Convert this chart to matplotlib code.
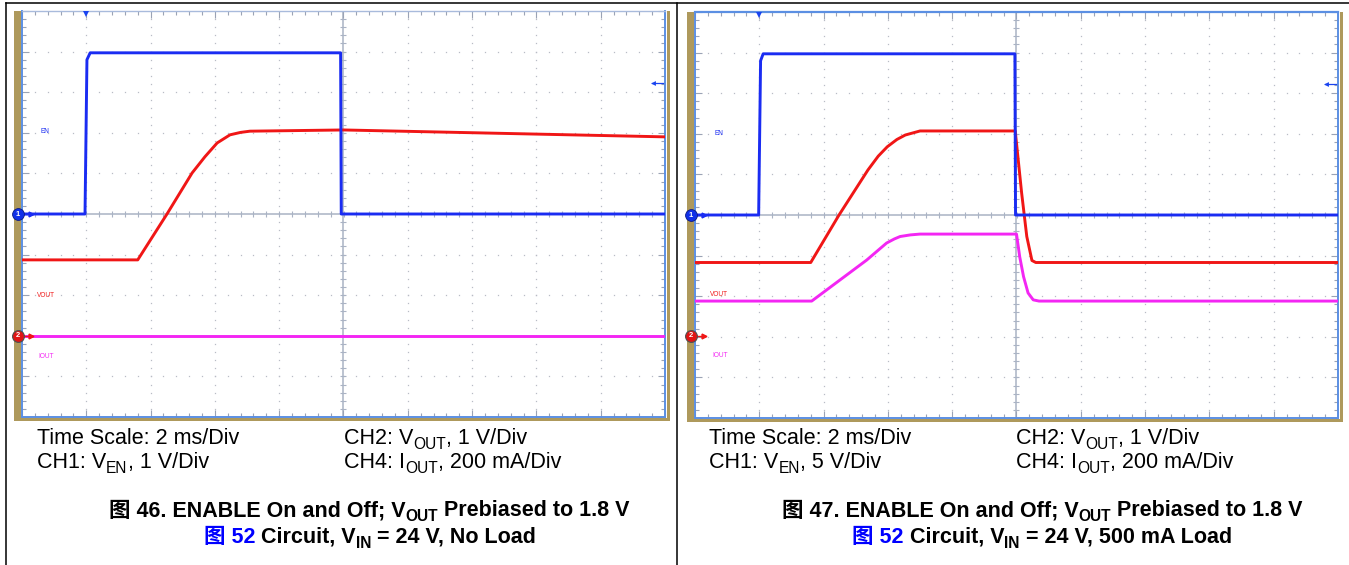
import numpy as np
import matplotlib
matplotlib.use("Agg")
import matplotlib.pyplot as plt
from matplotlib.patches import Rectangle
from matplotlib.lines import Line2D

plt.rcParams['font.family'] = ['Liberation Sans', 'Noto Sans CJK SC', 'DejaVu Sans']

W, H = 1349, 565

# ---------------- data (time in ms, 2 ms/div; level in screen divisions) -------------
en46_t = [-10.0, -8.04, -7.98, -7.88, -0.09, -0.07, 10.0]
en46_v = [0.0, 0.0, 3.80, 3.97, 3.97, 0.0, 0.0]
vout46_t = [-10.0, -6.40, -5.49, -4.71, -4.31, -3.93, -3.53, -3.20, -2.91, 0.0, 10.0]
vout46_v = [-1.13, -1.13, 0.0, 1.01, 1.41, 1.75, 1.95, 2.01, 2.04, 2.07, 1.90]
iout46_t = [-10.0, 10.0]
iout46_v = [-3.0, -3.0]

en47_t = [-10.0, -8.02, -7.96, -7.88, -0.05, -0.03, 10.0]
en47_v = [0.0, 0.0, 3.80, 3.97, 3.97, 0.0, 0.0]
vout47_t = [-10.0, -6.40, -5.52, -4.62, -4.30, -4.02, -3.72, -3.46, -3.00, -0.04, 0.00, 0.16, 0.32, 0.48, 0.60, 10.0]
vout47_v = [-1.17, -1.17, 0.0, 1.11, 1.45, 1.68, 1.86, 1.97, 2.07, 2.07, 1.77, 0.54, -0.53, -1.12, -1.17, -1.17]
iout47_t = [-10.0, -6.37, -5.49, -4.66, -4.04, -3.80, -3.62, -3.30, -3.00, 0.00, 0.10, 0.22, 0.36, 0.52, 0.70, 10.0]
iout47_v = [-2.12, -2.12, -1.60, -1.11, -0.69, -0.59, -0.53, -0.49, -0.47, -0.47, -1.03, -1.52, -1.92, -2.09, -2.12, -2.12]

ch_names = ['EN', 'VOUT', 'IOUT']
ch1_marker_46, ch2_marker_46 = 0.0, -3.0
ch1_marker_47, ch2_marker_47 = 0.0, -2.97
trig_t_46, trig_t_47 = -8.0, -8.02
ref_level_46, ref_level_47 = 3.23, 3.23

info46 = [[("Time Scale: 2 ms/Div", False)],
          [("CH1: V", False), ("EN", True), (", 1 V/Div", False)]]
info46b = [[("CH2: V", False), ("OUT", True), (", 1 V/Div", False)],
           [("CH4: I", False), ("OUT", True), (", 200 mA/Div", False)]]
info47 = [[("Time Scale: 2 ms/Div", False)],
          [("CH1: V", False), ("EN", True), (", 5 V/Div", False)]]
info47b = info46b
cap46 = [[("图 46. ENABLE On and Off; V", False, 'k'), ("OUT", True, 'k'), (" Prebiased to 1.8 V", False, 'k')],
         [("图 52", False, '#0000ff'), (" Circuit, V", False, 'k'), ("IN", True, 'k'), (" = 24 V, No Load", False, 'k')]]
cap47 = [[("图 47. ENABLE On and Off; V", False, 'k'), ("OUT", True, 'k'), (" Prebiased to 1.8 V", False, 'k')],
         [("图 52", False, '#0000ff'), (" Circuit, V", False, 'k'), ("IN", True, 'k'), (" = 24 V, 500 mA Load", False, 'k')]]

BLUE = '#1a2cf2'
RED = '#f01616'
MAG = '#f326f3'
GOLD = '#ae995c'
EDGE = '#5b8fe3'
GRIDC = '#b8bcc6'

fig = plt.figure(figsize=(W / 100, H / 100), dpi=100)


def fx(px):
    return px / W


def fy(py):
    return 1 - py / H


def rect(x0, y0, x1, y1, color, z=-1):
    fig.add_artist(Rectangle((fx(x0), fy(y1)), fx(x1) - fx(x0), fy(y0) - fy(y1),
                             transform=fig.transFigure, color=color, lw=0, zorder=z))


def hline_px(x0, x1, y, color='k', lw=1.1, z=-1):
    fig.add_artist(Line2D([fx(x0), fx(x1)], [fy(y), fy(y)], transform=fig.transFigure,
                          color=color, lw=lw, zorder=z))


def vline_px(x, y0, y1, color='k', lw=1.1, z=-1):
    fig.add_artist(Line2D([fx(x), fx(x)], [fy(y0), fy(y1)], transform=fig.transFigure,
                          color=color, lw=lw, zorder=z))


# outer frame
hline_px(6, W, 3)
vline_px(6, 3, H)
vline_px(677, 3, H)


def scope(left, top, traces, labels, m1, m2, trig, ref, top_edge):
    w, h = 643, 406
    # gold bezel
    rect(left - 8, top, left - 1.5, top + h + 3.5, GOLD)
    rect(left - 8, top + h + 0.5, left + w + 5, top + h + 3.5, GOLD)
    rect(left + w + 1.5, top, left + w + 5, top + h + 3.5, GOLD)
    ax = fig.add_axes([fx(left), fy(top + h), w / W, h / H])
    ax.set_xlim(-10, 10)
    ax.set_ylim(-5, 5)
    for s in ax.spines.values():
        s.set_color(EDGE)
        s.set_linewidth(1.4)
    ax.spines['top'].set_color(top_edge[0])
    ax.spines['top'].set_linewidth(top_edge[1])
    ax.set_xticks(np.arange(-10, 10.1, 2))
    ax.set_yticks(np.arange(-5, 5.1, 1))
    ax.set_xticks(np.arange(-10, 10.1, 0.4), minor=True)
    ax.set_yticks(np.arange(-5, 5.1, 0.2), minor=True)
    ax.tick_params(which='both', direction='in', top=True, right=True,
                   labelbottom=False, labelleft=False, color='#9aa3b5', width=0.8)
    ax.tick_params(which='major', length=5)
    ax.tick_params(which='minor', length=3)
    # dotted graticule
    yy = np.arange(-5, 5.01, 0.2)
    xx = np.arange(-10, 10.01, 0.4)
    for gx in range(-8, 9, 2):
        if gx == 0:
            continue
        ax.plot(np.full(yy.size, gx), yy, ls='none', marker='s', ms=0.9, mew=0,
                color=GRIDC, zorder=1)
    for gy in range(-4, 5):
        if gy == 0:
            continue
        ax.plot(xx, np.full(xx.size, gy), ls='none', marker='s', ms=0.9, mew=0,
                color=GRIDC, zorder=1)
    # centre cross with ticks
    ax.axhline(0, color='#aab3c4', lw=1.1, zorder=1)
    ax.axvline(0, color='#aab3c4', lw=1.1, zorder=1)
    ax.plot(xx, np.zeros(xx.size), ls='none', marker='|', ms=4, mew=0.8, color='#aab3c4', zorder=1)
    ax.plot(np.zeros(yy.size), yy, ls='none', marker='_', ms=4, mew=0.8, color='#aab3c4', zorder=1)
    # traces
    for t, v, c in traces:
        ax.plot(t, v, color=c, lw=2.1, zorder=3, solid_joinstyle='round')
    # channel labels
    for (x, y, s, c) in labels:
        ax.text(x, y, s, color=c, fontsize=4.7, va='center', ha='left', zorder=4)
    # channel markers
    cx = -10.12
    ax.plot([-9.95, -9.68], [m1, m1], color=BLUE, lw=1.0, clip_on=False, zorder=9)
    ax.plot([-9.72], [m1], marker='>', ms=3.5, color=BLUE, clip_on=False, zorder=9)
    ax.plot([cx], [m1], marker='o', ms=8.5, mfc='#1030e8', mec='#0a1a80', mew=0.6,
            clip_on=False, zorder=10)
    ax.text(cx, m1, '1', color='white', fontsize=5.5, fontweight='bold',
            ha='center', va='center', zorder=11, clip_on=False)
    ax.plot([-9.95, -9.68], [m2, m2], color=RED, lw=1.0, clip_on=False, zorder=9)
    ax.plot([-9.72], [m2], marker='>', ms=3.5, color=RED, clip_on=False, zorder=9)
    ax.plot([cx], [m2], marker='o', ms=8.5, mfc='#e01414', mec='#505050', mew=0.8,
            clip_on=False, zorder=10)
    ax.text(cx, m2, '2', color='white', fontsize=5.5, fontweight='bold',
            ha='center', va='center', zorder=11, clip_on=False)
    # trigger position marker and trigger level arrow
    ax.plot([trig], [4.92], marker='v', ms=5, color='#1a44f0', mew=0, clip_on=False, zorder=9)
    ax.plot([9.6, 9.95], [ref, ref], color='#1a44f0', lw=0.9, zorder=9)
    ax.plot([9.62], [ref], marker='<', ms=3.5, color='#1a44f0', mew=0, zorder=9)
    return ax


scope(22, 11,
      [(iout46_t, iout46_v, MAG), (vout46_t, vout46_v, RED), (en46_t, en46_v, BLUE)],
      [(-9.44, 2.04, ch_names[0], BLUE), (-9.53, -2.0, ch_names[1], RED), (-9.50, -3.5, ch_names[2], MAG)],
      ch1_marker_46, ch2_marker_46, trig_t_46, ref_level_46, ('#a9bbdc', 1.0))
scope(695, 12,
      [(iout47_t, iout47_v, MAG), (vout47_t, vout47_v, RED), (en47_t, en47_v, BLUE)],
      [(-9.38, 2.0, ch_names[0], BLUE), (-9.53, -1.97, ch_names[1], RED), (-9.47, -3.47, ch_names[2], MAG)],
      ch1_marker_47, ch2_marker_47, trig_t_47, ref_level_47, (EDGE, 1.6))

renderer = fig.canvas.get_renderer()
FS = 15.5


def text_w(s, size, weight):
    t = fig.text(0, 0, s, fontsize=size, fontweight=weight)
    w = t.get_window_extent(renderer).width
    t.remove()
    return w


def runs(items, x, y, ha='left', weight='normal', size=FS):
    # items: (string, is_sub, color)
    sp_cache = {}

    def space_w(sz):
        if sz not in sp_cache:
            sp_cache[sz] = text_w('a a', sz, weight) - text_w('aa', sz, weight)
        return sp_cache[sz]

    pieces = []
    total = 0.0
    for it in items:
        s, sub = it[0], it[1]
        c = it[2] if len(it) > 2 else 'k'
        sz = size * 0.72 if sub else size
        lead = len(s) - len(s.lstrip(' '))
        trail = len(s) - len(s.rstrip(' '))
        core = s.strip(' ')
        lw_ = lead * space_w(sz)
        cw = text_w(core, sz, weight)
        tw = trail * space_w(sz)
        pieces.append((core, sz, c, total + lw_, sub))
        total += lw_ + cw + tw
    x0 = x - total / 2 if ha == 'center' else x
    for core, sz, c, off, sub in pieces:
        dy = size * 0.30 if sub else 0.0  # in px (approx)
        fig.text(fx(x0 + off), fy(y + dy), core, fontsize=sz, color=c,
                 fontweight=weight, ha='left', va='baseline')


for (info_a, info_b, x_a, x_b) in [(info46, info46b, 37, 344), (info47, info47b, 709, 1016)]:
    runs(info_a[0], x_a, 444)
    runs(info_a[1], x_a, 468)
    runs(info_b[0], x_b, 444)
    runs(info_b[1], x_b, 468)

runs(cap46[0], 369, 516, ha='center', weight='bold')
runs(cap46[1], 370, 543, ha='center', weight='bold')
runs(cap47[0], 1042, 516, ha='center', weight='bold')
runs(cap47[1], 1042, 543, ha='center', weight='bold')

fig.savefig('out.png', dpi=100)
